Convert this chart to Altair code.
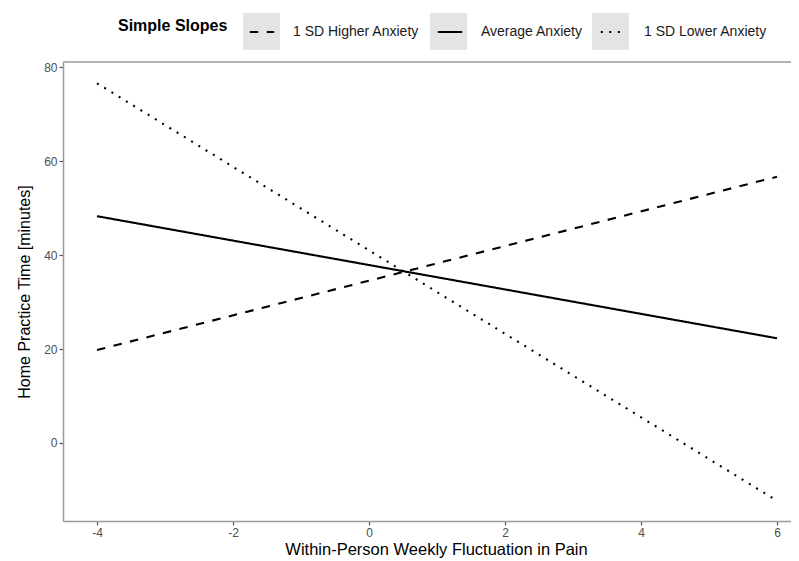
import altair as alt
import pandas as pd

# --- data ---
x_vals = [-4, 6]
higher = [19.8, 56.7]
average = [48.3, 22.3]
lower = [76.6, -12.3]
series_names = ["1 SD Higher Anxiety", "Average Anxiety", "1 SD Lower Anxiety"]
key_codes = ["k1", "k2", "k3"]
x_ticks = [-4, -2, 0, 2, 4, 6]
y_ticks = [0, 20, 40, 60, 80]

rows = []
for name, code, vals in zip(series_names, key_codes, [higher, average, lower]):
    for x, y in zip(x_vals, vals):
        rows.append({"pain": x, "time": y, "slope": name, "key": code})
df = pd.DataFrame(rows)

W, H = 728, 459
FONT = "Liberation Sans"
SYM = 1369  # legend key size (px^2), 37 px side

x_scale = alt.Scale(domain=[-4.5, 6.206], nice=False, zero=False)
y_scale = alt.Scale(domain=[-16.61, 81.13], nice=False, zero=False)

legend_common = dict(
    title="Simple Slopes", orient="none", direction="horizontal",
    legendX=55, legendY=-50, titleOrient="left",
    titleFontSize=16, titleFontWeight="bold", titleFont=FONT,
    titlePadding=14, titleBaseline="middle",
    symbolSize=SYM, labelFontSize=14, labelFont=FONT,
    labelOffset=11, columnPadding=10,
)

label_map = ("datum.label == 'k1' ? '1 SD Higher Anxiety' : "
             "datum.label == 'k2' ? 'Average Anxiety' : '1 SD Lower Anxiety'")

# invisible points that only carry the grey legend-key backgrounds
key_boxes = alt.Chart(df).mark_square(size=0, strokeWidth=0).encode(
    x=alt.X("pain:Q", scale=x_scale),
    y=alt.Y("time:Q", scale=y_scale),
    fill=alt.Fill(
        "key:N",
        scale=alt.Scale(domain=key_codes, range=["#d9d9d9", "#d9d9d9", "#d9d9d9"]),
        legend=alt.Legend(
            symbolType="square", symbolFillColor="#d9d9d9",
            labelOpacity=0, titleOpacity=0,
            labelExpr=label_map, **legend_common,
        ),
    ),
)

lines = alt.Chart(df).mark_line(color="black", strokeWidth=2.1, strokeCap="butt").encode(
    x=alt.X("pain:Q", scale=x_scale,
            axis=alt.Axis(values=x_ticks, title="Within-Person Weekly Fluctuation in Pain",
                          titleX=373, titleAlign="center", titleAnchor="start",
                          labelExpr="datum.value + ''")),
    y=alt.Y("time:Q", scale=y_scale,
            axis=alt.Axis(values=y_ticks, title="Home Practice Time [minutes]",
                          labelExpr="datum.value + ''")),
    strokeDash=alt.StrokeDash(
        "slope:N",
        scale=alt.Scale(domain=series_names, range=[[8.5, 8.5], [1, 0], [2, 6.5]]),
        legend=alt.Legend(
            symbolType="M-0.66,0H0.66", symbolStrokeWidth=2.2,
            symbolStrokeColor="black",
            labelColor="#1a1a1a", titleColor="black",
            **legend_common,
        ),
    ),
    detail="slope:N",
)

top_border = alt.Chart(pd.DataFrame({"a": [0]})).mark_rule(color="#9a9a9a", strokeWidth=1.5).encode(
    x=alt.value(0), x2=alt.value(W), y=alt.value(0)
)

chart = alt.layer(top_border, key_boxes, lines).properties(
    width=W, height=H,
    autosize=alt.AutoSizeParams(type="none"),
    padding={"left": 55, "top": 54, "right": 0, "bottom": 40},
).resolve_legend(fill="independent", strokeDash="independent").configure_view(stroke=None).configure_axis(
    domainColor="#9a9a9a", domainWidth=1.5,
    tickColor="#555555", tickSize=4, tickWidth=1.2,
    labelColor="#4d4d4d", labelFontSize=12, labelFont=FONT, labelPadding=2,
    titleColor="black", titleFontSize=16, titleFont=FONT, titleFontWeight="normal",
    grid=False,
).configure_axisY(titlePadding=11).configure_axisX(titlePadding=3, titleFontSize=16.5)

chart.save("out.html", embed_options={"renderer": "svg", "actions": False})
